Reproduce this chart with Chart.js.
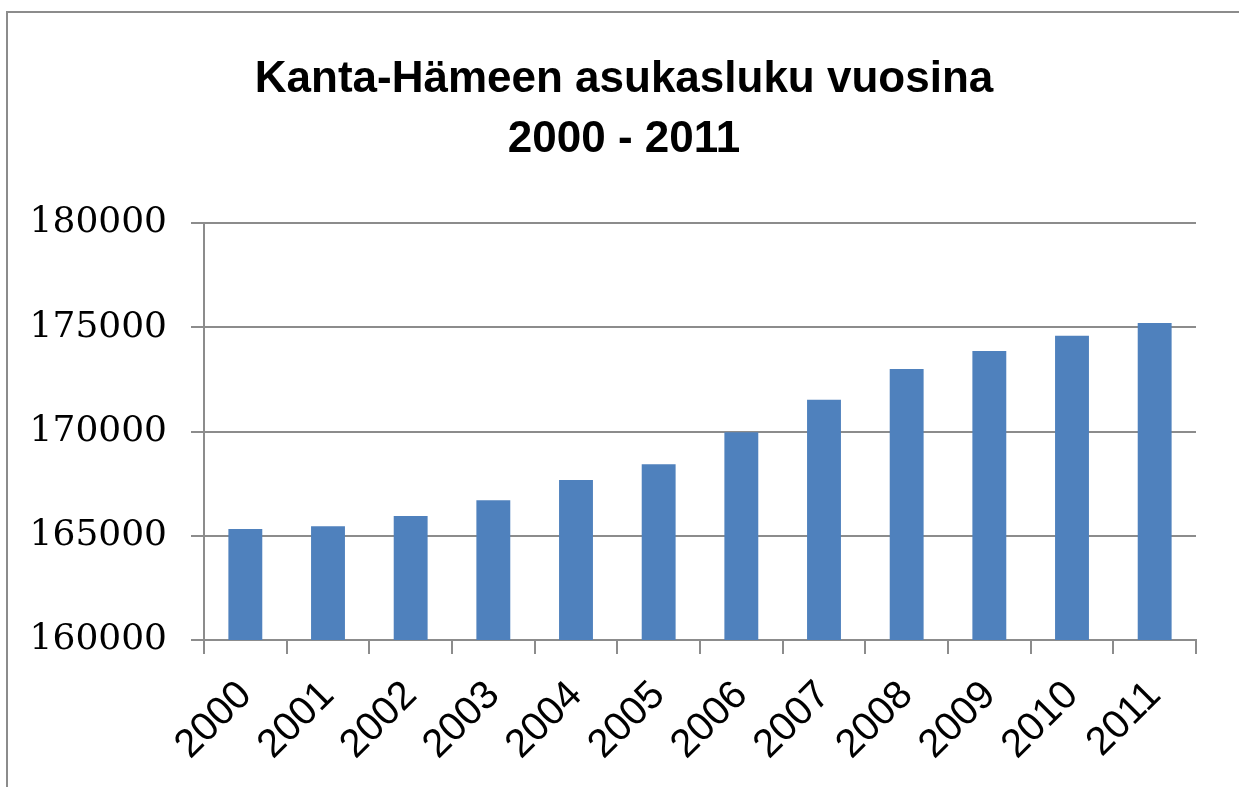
<!DOCTYPE html>
<html>
<head>
<meta charset="utf-8">
<script src="https://cdn.jsdelivr.net/npm/chart.js@4"></script>
<style>
  html, body { margin: 0; padding: 0; background: #fff; }
  #wrap { position: relative; width: 1239px; height: 787px; }
  #frame { position: absolute; left: 6px; top: 11px; right: -4px; bottom: -4px;
           border-left: 2px solid #8c8c8c; border-top: 2px solid #8c8c8c; }
  canvas { position: absolute; left: 0; top: 0; }
</style>
</head>
<body>
<div id="wrap">
  <div id="frame"></div>
  <canvas id="c" width="1239" height="787"></canvas>
</div>
<script>
const titleLines = ["Kanta-Hämeen asukasluku vuosina", "2000 - 2011"];
const years = ["2000","2001","2002","2003","2004","2005","2006","2007","2008","2009","2010","2011"];
const population = [165324, 165453, 165947, 166700, 167674, 168427, 169960, 171525, 172998, 173861, 174595, 175204];
const yMin = 160000, yMax = 180000, yStep = 5000;

const axisGray = '#8c8c8c';

// Title drawn as canvas text, centred where the reference centres it
const titlePlugin = {
  id: 'offsetTitle',
  afterDraw(chart, args, opts) {
    const ctx = chart.ctx;
    ctx.save();
    ctx.fillStyle = '#000';
    ctx.font = 'bold 44px "Liberation Sans"';
    ctx.textAlign = 'center';
    ctx.textBaseline = 'middle';
    opts.lines.forEach((t, i) => ctx.fillText(t, opts.x, opts.y + i * opts.lineHeight));
    ctx.restore();
  }
};

new Chart(document.getElementById('c'), {
  type: 'bar',
  data: {
    labels: years,
    datasets: [{
      data: population,
      backgroundColor: '#4F81BD',
      borderWidth: 0,
      barPercentage: 0.41,
      categoryPercentage: 1.0
    }]
  },
  plugins: [titlePlugin],
  options: {
    responsive: false,
    animation: false,
    devicePixelRatio: 1,
    layout: { padding: { left: 0, right: 43, top: 223, bottom: 0 } },
    plugins: {
      legend: { display: false },
      tooltip: { enabled: false },
      title: { display: false },
      offsetTitle: { lines: titleLines, x: 624, y: 80, lineHeight: 60 }
    },
    scales: {
      x: {
        offset: true,
        grid: {
          offset: true,
          drawOnChartArea: false,
          drawTicks: true,
          tickLength: 14,
          color: axisGray,
          lineWidth: 2
        },
        border: { display: true, color: axisGray, width: 2 },
        ticks: {
          color: '#000',
          font: { family: 'Liberation Sans', size: 40 },
          maxRotation: 45,
          minRotation: 45,
          padding: 18,
          autoSkip: false
        },
        afterFit: (s) => { s.height = 147; }
      },
      y: {
        min: yMin,
        max: yMax,
        grid: {
          color: axisGray,
          lineWidth: 2,
          tickLength: 13,
          drawTicks: true
        },
        border: { display: true, color: axisGray, width: 2 },
        ticks: {
          stepSize: yStep,
          color: '#000',
          font: { family: 'DejaVu Serif', size: 36 },
          padding: 24,
          callback: (v) => String(v)
        },
        afterFit: (s) => { s.width = 204; }
      }
    }
  }
});
</script>
</body>
</html>
